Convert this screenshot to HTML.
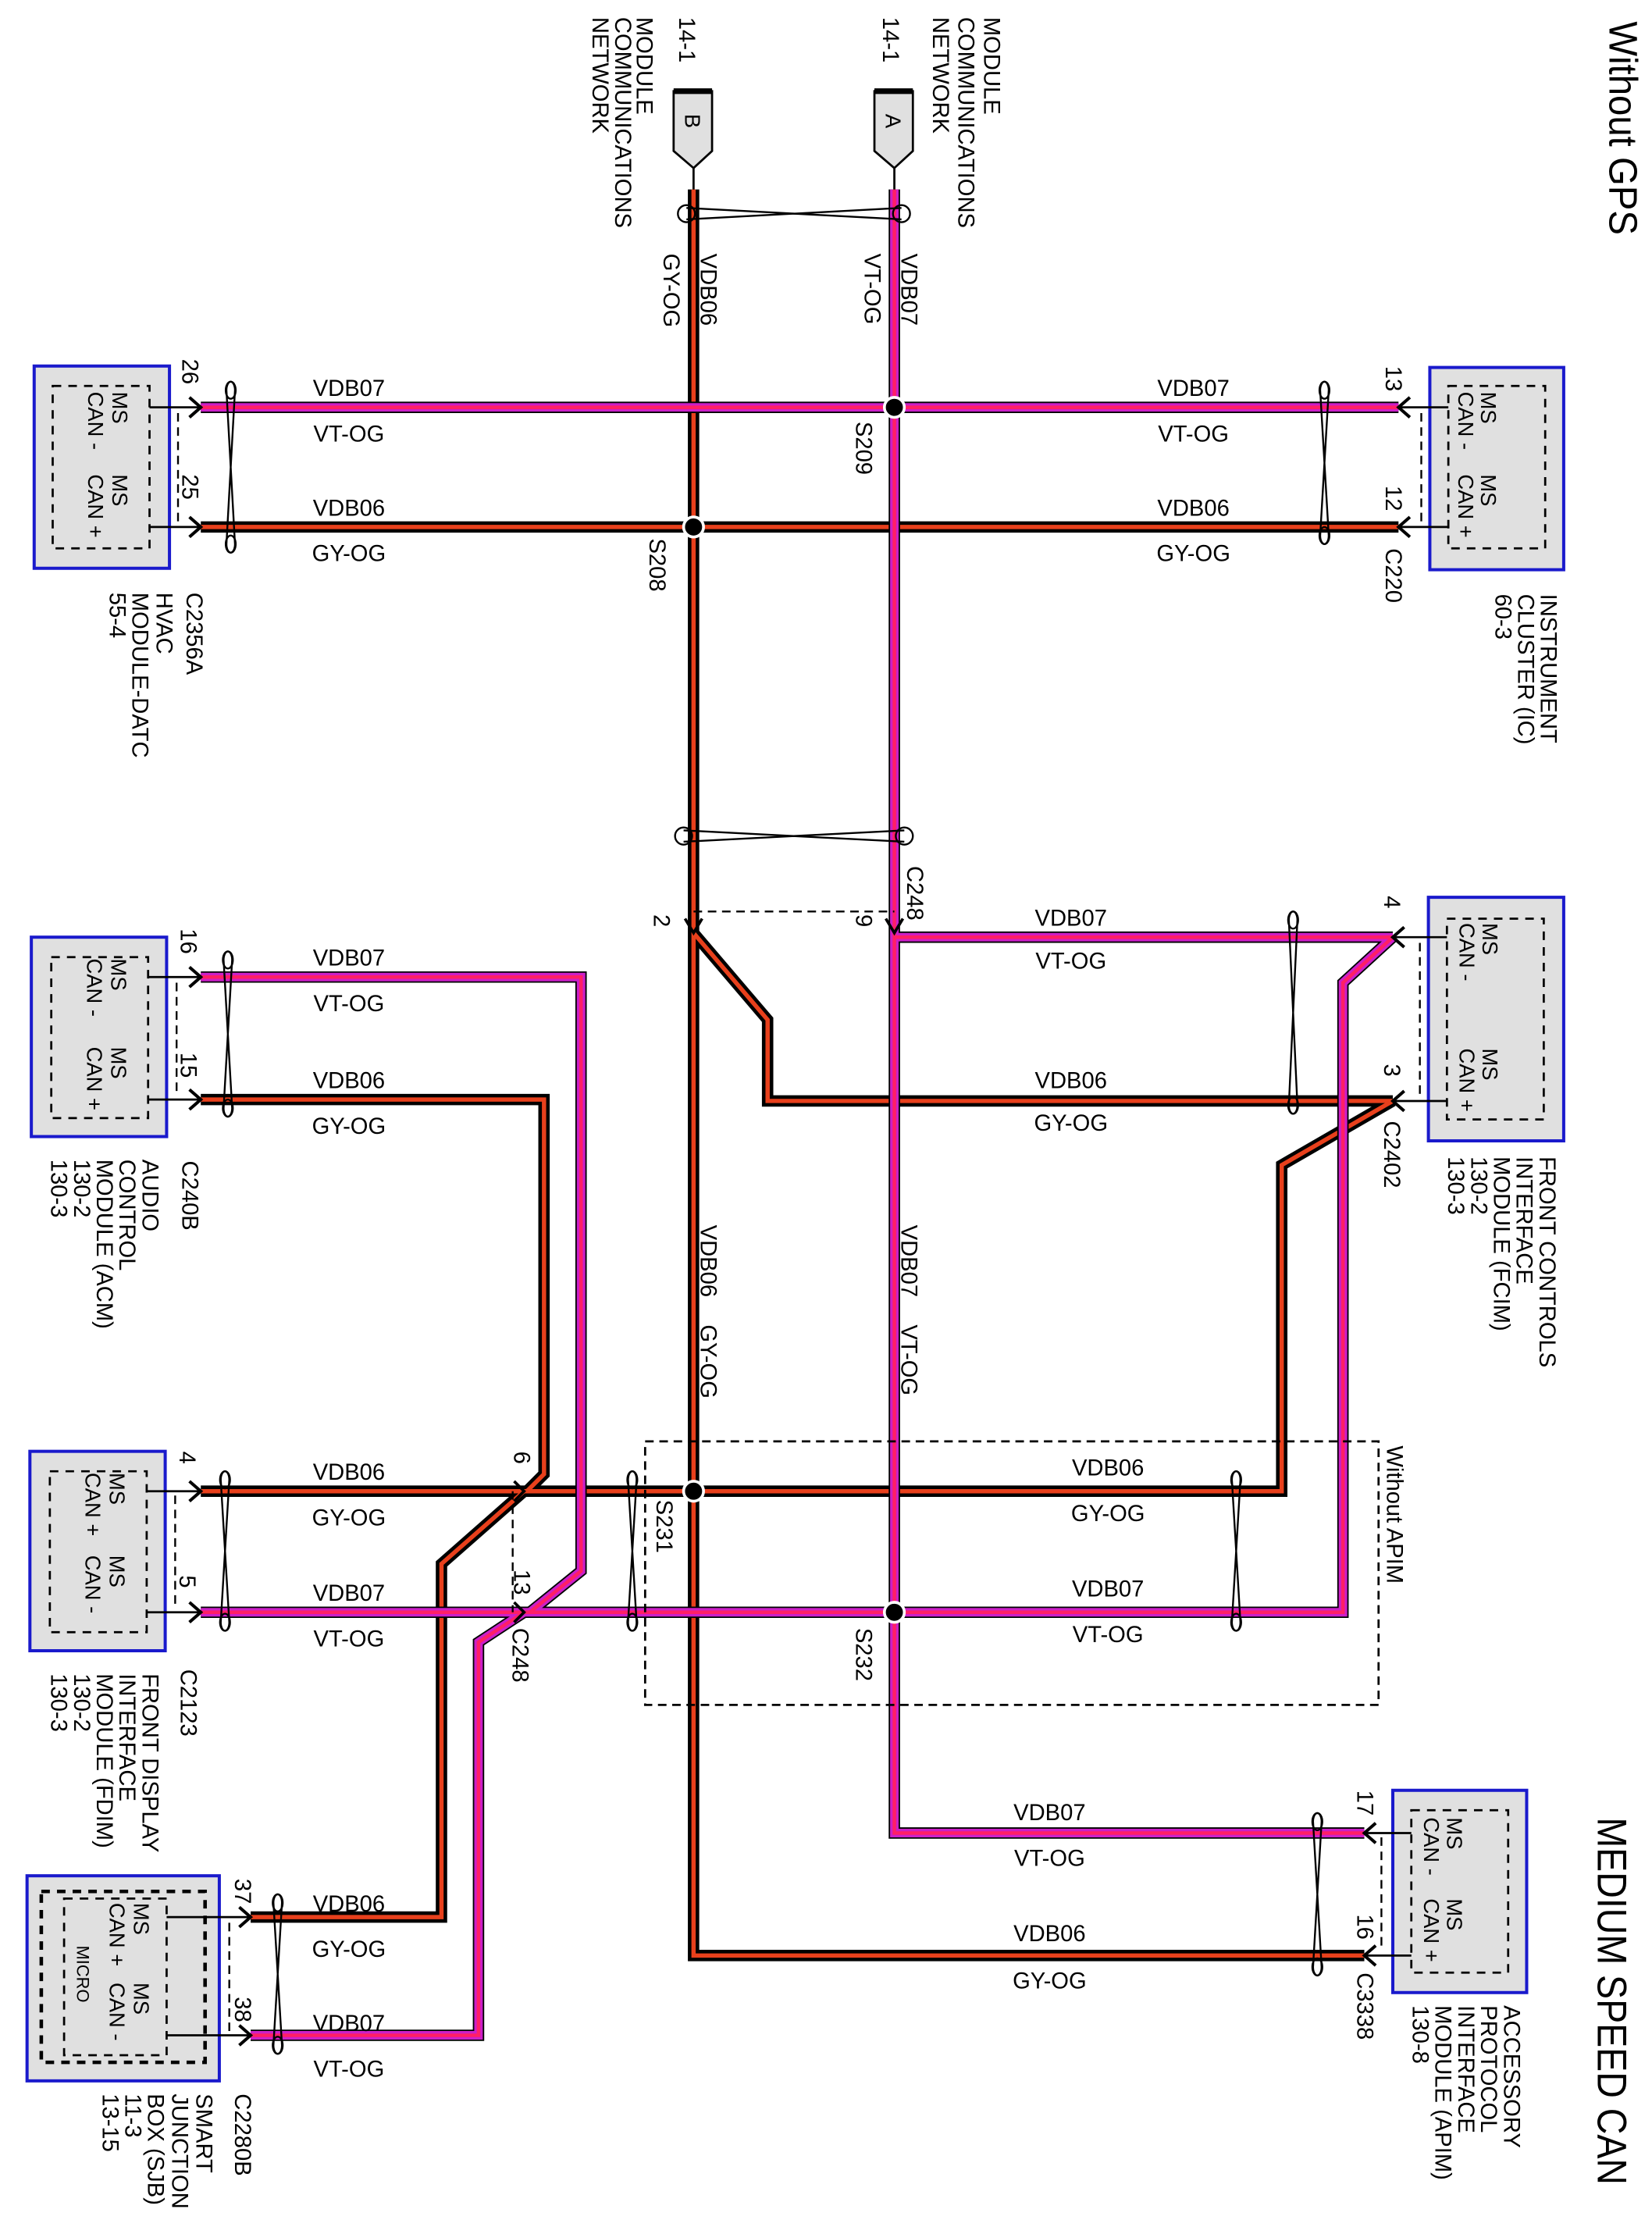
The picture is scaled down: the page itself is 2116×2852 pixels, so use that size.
<!DOCTYPE html>
<html><head><meta charset="utf-8"><style>
html,body{margin:0;padding:0;background:#fff;}
svg{display:block;}
text{font-family:"Liberation Sans",Arial,sans-serif;fill:#000;}
</style></head><body>
<svg xmlns="http://www.w3.org/2000/svg" xmlns:xlink="http://www.w3.org/1999/xlink" width="2116" height="2852" viewBox="0 0 1160 1563.6" preserveAspectRatio="none">
<defs>
<path id="p1" d="M628,133 L628,1287 L958,1287"/>
<path id="p2" d="M141,286 L982,286"/>
<path id="p3" d="M628,658 L978,658"/>
<path id="p4" d="M141,1132 L943,1132 L943,690 L978,658"/>
<path id="p5" d="M141,686 L408,686 L408,1103 L372,1132"/>
<path id="p6" d="M368,1132 L336,1153 L336,1429 L176,1429"/>
<path id="r1" d="M487,133 L487,1373 L958,1373"/>
<path id="r2" d="M141,370 L982,370"/>
<path id="r3" d="M487,655 L539,716 L539,773 L978,773"/>
<path id="r4" d="M978,773 L900,818 L900,1047 L141,1047"/>
<path id="r5" d="M141,772 L382,772 L382,1035 L370,1047"/>
<path id="r6" d="M368,1047 L310,1098 L310,1346 L176,1346"/>
</defs>

<!-- red wires -->
<g fill="none" stroke-linejoin="miter">
<g stroke="#000" stroke-width="8">
<use xlink:href="#r1"/><use xlink:href="#r2"/><use xlink:href="#r3"/><use xlink:href="#r4"/><use xlink:href="#r5"/><use xlink:href="#r6"/>
</g>
<g stroke="#e8401c" stroke-width="3">
<use xlink:href="#r1"/><use xlink:href="#r2"/><use xlink:href="#r3"/><use xlink:href="#r4"/><use xlink:href="#r5"/><use xlink:href="#r6"/>
</g>
<!-- pink wires -->
<g stroke="#000" stroke-width="8">
<use xlink:href="#p1"/><use xlink:href="#p2"/><use xlink:href="#p3"/><use xlink:href="#p4"/><use xlink:href="#p5"/><use xlink:href="#p6"/>
</g>
<g stroke="#cc1fc8" stroke-width="6">
<use xlink:href="#p1"/><use xlink:href="#p2"/><use xlink:href="#p3"/><use xlink:href="#p4"/><use xlink:href="#p5"/><use xlink:href="#p6"/>
</g>
<g stroke="#ff1f66" stroke-width="2.5">
<use xlink:href="#p1"/><use xlink:href="#p2"/><use xlink:href="#p3"/><use xlink:href="#p4"/><use xlink:href="#p5"/><use xlink:href="#p6"/>
</g>
</g>

<!-- top connectors A/B -->
<g stroke="#000" stroke-width="1.5" fill="#e0e0e0">
<path d="M614,64 L641,64 L641,106 L628,118 L614,106 Z"/>
<path d="M473,64 L500,64 L500,106 L487,118 L473,106 Z"/>
</g>
<g stroke="#000" stroke-width="4"><line x1="614" y1="64" x2="641" y2="64"/><line x1="473" y1="64" x2="500" y2="64"/></g>
<g stroke="#000" stroke-width="1.5"><line x1="628" y1="118" x2="628" y2="133"/><line x1="487" y1="118" x2="487" y2="133"/></g>
<text transform="translate(622,80) rotate(90)" font-size="15">A</text>
<text transform="translate(481,80) rotate(90)" font-size="15">B</text>

<!-- splices -->
<g fill="#000" stroke="#fff" stroke-width="2">
<circle cx="628" cy="286" r="7"/><circle cx="487" cy="370" r="7"/>
<circle cx="487" cy="1047" r="7"/><circle cx="628" cy="1132" r="7"/>
</g>

<!-- twists -->
<g fill="none" stroke="#000" stroke-width="1.3">
<!-- horizontal twists -->
<ellipse cx="482" cy="150" rx="6" ry="6"/><ellipse cx="633" cy="150" rx="6" ry="6"/>
<line x1="482" y1="146" x2="633" y2="154"/><line x1="482" y1="154" x2="633" y2="146"/>
<ellipse cx="480" cy="587" rx="6" ry="6"/><ellipse cx="635" cy="587" rx="6" ry="6"/>
<line x1="480" y1="583" x2="635" y2="591"/><line x1="480" y1="591" x2="635" y2="583"/>
<!-- vertical twists -->
<g id="tw">
</g>
<path d="M162,268 m-3,6 a3,6 0 1 1 6,0 M162,388 m-3,-6 a3,6 0 1 0 6,0 M159,274 L165,382 M165,274 L159,382"/>
<path d="M930,268 m-3,6 a3,6 0 1 1 6,0 M930,382 m-3,-6 a3,6 0 1 0 6,0 M927,274 L933,376 M933,274 L927,376"/>
<path d="M160,668 m-3,6 a3,6 0 1 1 6,0 M160,784 m-3,-6 a3,6 0 1 0 6,0 M157,674 L163,778 M163,674 L157,778"/>
<path d="M908,640 m-3,6 a3,6 0 1 1 6,0 M908,782 m-3,-6 a3,6 0 1 0 6,0 M905,646 L911,776 M911,646 L905,776"/>
<path d="M158,1033 m-3,6 a3,6 0 1 1 6,0 M158,1145 m-3,-6 a3,6 0 1 0 6,0 M155,1039 L161,1139 M161,1039 L155,1139"/>
<path d="M444,1033 m-3,6 a3,6 0 1 1 6,0 M444,1145 m-3,-6 a3,6 0 1 0 6,0 M441,1039 L447,1139 M447,1039 L441,1139"/>
<path d="M868,1033 m-3,6 a3,6 0 1 1 6,0 M868,1145 m-3,-6 a3,6 0 1 0 6,0 M865,1039 L871,1139 M871,1039 L865,1139"/>
<path d="M925,1273 m-3,6 a3,6 0 1 1 6,0 M925,1387 m-3,-6 a3,6 0 1 0 6,0 M922,1279 L928,1381 M928,1279 L922,1381"/>
<path d="M195,1330 m-3,6 a3,6 0 1 1 6,0 M195,1442 m-3,-6 a3,6 0 1 0 6,0 M192,1336 L198,1436 M198,1336 L192,1436"/>
</g>
<!-- twist end loops as closed ellipses -->
<g fill="none" stroke="#000" stroke-width="1.3">
<ellipse cx="162" cy="274" rx="3.5" ry="6"/><ellipse cx="162" cy="382" rx="3.5" ry="6"/>
<ellipse cx="930" cy="274" rx="3.5" ry="6"/><ellipse cx="930" cy="376" rx="3.5" ry="6"/>
<ellipse cx="160" cy="674" rx="3.5" ry="6"/><ellipse cx="160" cy="778" rx="3.5" ry="6"/>
<ellipse cx="908" cy="646" rx="3.5" ry="6"/><ellipse cx="908" cy="776" rx="3.5" ry="6"/>
<ellipse cx="158" cy="1039" rx="3.5" ry="6"/><ellipse cx="158" cy="1139" rx="3.5" ry="6"/>
<ellipse cx="444" cy="1039" rx="3.5" ry="6"/><ellipse cx="444" cy="1139" rx="3.5" ry="6"/>
<ellipse cx="868" cy="1039" rx="3.5" ry="6"/><ellipse cx="868" cy="1139" rx="3.5" ry="6"/>
<ellipse cx="925" cy="1279" rx="3.5" ry="6"/><ellipse cx="925" cy="1381" rx="3.5" ry="6"/>
<ellipse cx="195" cy="1336" rx="3.5" ry="6"/><ellipse cx="195" cy="1436" rx="3.5" ry="6"/>
</g>

<!-- dashed connector lines & region -->
<g fill="none" stroke="#000" stroke-width="1.3" stroke-dasharray="6,4">
<line x1="487" y1="640" x2="628" y2="640"/>
<line x1="360" y1="1047" x2="360" y2="1132"/>
<rect x="453" y="1012" width="515" height="185" stroke-width="1.5"/>
<line x1="125" y1="290" x2="125" y2="368"/>
<line x1="998" y1="290" x2="998" y2="368"/>
<line x1="124" y1="690" x2="124" y2="768"/>
<line x1="997" y1="662" x2="997" y2="770"/>
<line x1="123" y1="1050" x2="123" y2="1128"/>
<line x1="970" y1="1290" x2="970" y2="1370"/>
<line x1="161" y1="1350" x2="161" y2="1428"/>
</g>

<!-- C248 middle arrows -->
<g fill="none" stroke="#000" stroke-width="2">
<path d="M481,645 L487,655 L493,645"/><path d="M622,645 L628,655 L634,645"/>
<path d="M361,1040 L368,1047 L361,1054"/><path d="M361,1125 L368,1132 L361,1139"/>
</g>

<!-- Modules -->
<g fill="#e0e0e0" stroke="#1a1acc" stroke-width="2.2">
<rect x="24" y="257" width="95" height="142"/>
<rect x="1004" y="258" width="94" height="142"/>
<rect x="22" y="658" width="95" height="140"/>
<rect x="1003" y="630" width="95" height="171"/>
<rect x="21" y="1019" width="95" height="140"/>
<rect x="978" y="1257" width="94" height="142"/>
<rect x="19" y="1317" width="135" height="144"/>
</g>
<g fill="none" stroke="#000" stroke-width="1.5" stroke-dasharray="6,5">
<rect x="37" y="271" width="68" height="114"/>
<rect x="1017" y="271" width="68" height="114"/>
<rect x="36" y="672" width="68" height="113"/>
<rect x="1016" y="645" width="68" height="141"/>
<rect x="35" y="1033" width="68" height="113"/>
<rect x="991" y="1271" width="68" height="114"/>
<rect x="29" y="1328" width="115" height="120" stroke-width="2.5"/>
<rect x="45" y="1333" width="72" height="110"/>
</g>
<!-- pin lines + chevrons -->
<g fill="none" stroke="#000" stroke-width="1.5">
<line x1="105" y1="286" x2="140" y2="286"/><line x1="105" y1="370" x2="140" y2="370"/>
<line x1="983" y1="286" x2="1017" y2="286"/><line x1="983" y1="370" x2="1017" y2="370"/>
<line x1="104" y1="686" x2="140" y2="686"/><line x1="104" y1="772" x2="140" y2="772"/>
<line x1="979" y1="658" x2="1016" y2="658"/><line x1="979" y1="773" x2="1016" y2="773"/>
<line x1="103" y1="1047" x2="140" y2="1047"/><line x1="103" y1="1132" x2="140" y2="1132"/>
<line x1="959" y1="1287" x2="991" y2="1287"/><line x1="959" y1="1373" x2="991" y2="1373"/>
<line x1="117" y1="1346" x2="175" y2="1346"/><line x1="117" y1="1429" x2="175" y2="1429"/>
</g>
<g fill="none" stroke="#000" stroke-width="2.2">
<path d="M133,279 L141,286 L133,293"/><path d="M133,363 L141,370 L133,377"/>
<path d="M990,279 L982,286 L990,293"/><path d="M990,363 L982,370 L990,377"/>
<path d="M133,679 L141,686 L133,693"/><path d="M133,765 L141,772 L133,779"/>
<path d="M986,651 L978,658 L986,665"/><path d="M986,766 L978,773 L986,780"/>
<path d="M133,1040 L141,1047 L133,1054"/><path d="M133,1125 L141,1132 L133,1139"/>
<path d="M966,1280 L958,1287 L966,1294"/><path d="M966,1366 L958,1373 L966,1380"/>
<path d="M168,1339 L176,1346 L168,1353"/><path d="M168,1422 L176,1429 L168,1436"/>
</g>

<!-- Module inner text (rotated) -->
<g font-size="15">
<text transform="translate(79,275) rotate(90)">MS</text><text transform="translate(62,275) rotate(90)">CAN -</text>
<text transform="translate(79,333) rotate(90)">MS</text><text transform="translate(62,333) rotate(90)">CAN +</text>
<text transform="translate(1040,275) rotate(90)">MS</text><text transform="translate(1024,275) rotate(90)">CAN -</text>
<text transform="translate(1040,333) rotate(90)">MS</text><text transform="translate(1024,333) rotate(90)">CAN +</text>
<text transform="translate(78,673) rotate(90)">MS</text><text transform="translate(61,673) rotate(90)">CAN -</text>
<text transform="translate(78,735) rotate(90)">MS</text><text transform="translate(61,735) rotate(90)">CAN +</text>
<text transform="translate(1041,648) rotate(90)">MS</text><text transform="translate(1025,648) rotate(90)">CAN -</text>
<text transform="translate(1041,736) rotate(90)">MS</text><text transform="translate(1025,736) rotate(90)">CAN +</text>
<text transform="translate(77,1034) rotate(90)">MS</text><text transform="translate(60,1034) rotate(90)">CAN +</text>
<text transform="translate(77,1092) rotate(90)">MS</text><text transform="translate(60,1092) rotate(90)">CAN -</text>
<text transform="translate(1016,1276) rotate(90)">MS</text><text transform="translate(1000,1276) rotate(90)">CAN -</text>
<text transform="translate(1016,1333) rotate(90)">MS</text><text transform="translate(1000,1333) rotate(90)">CAN +</text>
<text transform="translate(94,1336) rotate(90)">MS</text><text transform="translate(77,1336) rotate(90)">CAN +</text>
<text transform="translate(94,1392) rotate(90)">MS</text><text transform="translate(77,1392) rotate(90)">CAN -</text>
<text transform="translate(54,1366) rotate(90)" font-size="12">MICRO</text>
</g>

<!-- Module labels -->
<g font-size="16">
<text transform="translate(110,416) rotate(90)">HVAC</text>
<text transform="translate(93,416) rotate(90)">MODULE-DATC</text>
<text transform="translate(77,416) rotate(90)">55-4</text>
<text transform="translate(1082,417) rotate(90)">INSTRUMENT</text>
<text transform="translate(1066,417) rotate(90)">CLUSTER (IC)</text>
<text transform="translate(1050,417) rotate(90)">60-3</text>
<text transform="translate(100,814) rotate(90)">AUDIO</text>
<text transform="translate(84,814) rotate(90)">CONTROL</text>
<text transform="translate(68,814) rotate(90)">MODULE (ACM)</text>
<text transform="translate(52,814) rotate(90)">130-2</text>
<text transform="translate(36,814) rotate(90)">130-3</text>
<text transform="translate(1081,812) rotate(90)">FRONT CONTROLS</text>
<text transform="translate(1065,812) rotate(90)">INTERFACE</text>
<text transform="translate(1049,812) rotate(90)">MODULE (FCIM)</text>
<text transform="translate(1033,812) rotate(90)">130-2</text>
<text transform="translate(1017,812) rotate(90)">130-3</text>
<text transform="translate(100,1175) rotate(90)">FRONT DISPLAY</text>
<text transform="translate(84,1175) rotate(90)">INTERFACE</text>
<text transform="translate(68,1175) rotate(90)">MODULE (FDIM)</text>
<text transform="translate(52,1175) rotate(90)">130-2</text>
<text transform="translate(36,1175) rotate(90)">130-3</text>
<text transform="translate(1056,1408) rotate(90)">ACCESSORY</text>
<text transform="translate(1040,1408) rotate(90)">PROTOCOL</text>
<text transform="translate(1024,1408) rotate(90)">INTERFACE</text>
<text transform="translate(1008,1408) rotate(90)">MODULE (APIM)</text>
<text transform="translate(992,1408) rotate(90)">130-8</text>
<text transform="translate(138,1470) rotate(90)">SMART</text>
<text transform="translate(121,1470) rotate(90)">JUNCTION</text>
<text transform="translate(104,1470) rotate(90)">BOX (SJB)</text>
<text transform="translate(88,1470) rotate(90)">11-3</text>
<text transform="translate(72,1470) rotate(90)">13-15</text>
<!-- top network labels -->
<text transform="translate(691,12) rotate(90)">MODULE</text>
<text transform="translate(673,12) rotate(90)">COMMUNICATIONS</text>
<text transform="translate(655,12) rotate(90)">NETWORK</text>
<text transform="translate(620,12) rotate(90)">14-1</text>
<text transform="translate(447,12) rotate(90)">MODULE</text>
<text transform="translate(432,12) rotate(90)">COMMUNICATIONS</text>
<text transform="translate(416,12) rotate(90)">NETWORK</text>
<text transform="translate(477,12) rotate(90)">14-1</text>
<!-- connector names & pins -->
<text transform="translate(131,416) rotate(90)">C2356A</text>
<text transform="translate(128,252) rotate(90)">26</text>
<text transform="translate(128,333) rotate(90)">25</text>
<text transform="translate(973,385) rotate(90)">C220</text>
<text transform="translate(973,257) rotate(90)">13</text>
<text transform="translate(973,341) rotate(90)">12</text>
<text transform="translate(128,815) rotate(90)">C240B</text>
<text transform="translate(127,652) rotate(90)">16</text>
<text transform="translate(127,739) rotate(90)">15</text>
<text transform="translate(972,787) rotate(90)">C2402</text>
<text transform="translate(972,629) rotate(90)">4</text>
<text transform="translate(972,747) rotate(90)">3</text>
<text transform="translate(127,1172) rotate(90)">C2123</text>
<text transform="translate(126,1019) rotate(90)">4</text>
<text transform="translate(126,1106) rotate(90)">5</text>
<text transform="translate(953,1385) rotate(90)">C3338</text>
<text transform="translate(953,1257) rotate(90)">17</text>
<text transform="translate(953,1344) rotate(90)">16</text>
<text transform="translate(165,1470) rotate(90)">C2280B</text>
<text transform="translate(165,1319) rotate(90)">37</text>
<text transform="translate(165,1402) rotate(90)">38</text>
<text transform="translate(637,608) rotate(90)">C248</text>
<text transform="translate(459,642) rotate(90)">2</text>
<text transform="translate(601,642) rotate(90)">9</text>
<text transform="translate(360,1143) rotate(90)">C248</text>
<text transform="translate(361,1019) rotate(90)">6</text>
<text transform="translate(361,1102) rotate(90)">13</text>
<text transform="translate(601,296) rotate(90)">S209</text>
<text transform="translate(456,378) rotate(90)">S208</text>
<text transform="translate(461,1053) rotate(90)">S231</text>
<text transform="translate(601,1143) rotate(90)">S232</text>
<text transform="translate(974,1015) rotate(90)">Without APIM</text>
<!-- vertical wire labels -->
<text transform="translate(633,178) rotate(90)">VDB07</text>
<text transform="translate(607,178) rotate(90)">VT-OG</text>
<text transform="translate(492,178) rotate(90)">VDB06</text>
<text transform="translate(466,178) rotate(90)">GY-OG</text>
<text transform="translate(492,860) rotate(90)">VDB06</text>
<text transform="translate(492,930) rotate(90)">GY-OG</text>
<text transform="translate(633,860) rotate(90)">VDB07</text>
<text transform="translate(633,930) rotate(90)">VT-OG</text>
</g>

<!-- horizontal wire labels -->
<g font-size="16" text-anchor="middle">
<text x="245" y="278">VDB07</text><text x="245" y="310">VT-OG</text>
<text x="245" y="362">VDB06</text><text x="245" y="394">GY-OG</text>
<text x="838" y="278">VDB07</text><text x="838" y="310">VT-OG</text>
<text x="838" y="362">VDB06</text><text x="838" y="394">GY-OG</text>
<text x="245" y="678">VDB07</text><text x="245" y="710">VT-OG</text>
<text x="245" y="764">VDB06</text><text x="245" y="796">GY-OG</text>
<text x="752" y="650">VDB07</text><text x="752" y="680">VT-OG</text>
<text x="752" y="764">VDB06</text><text x="752" y="794">GY-OG</text>
<text x="245" y="1039">VDB06</text><text x="245" y="1071">GY-OG</text>
<text x="245" y="1124">VDB07</text><text x="245" y="1156">VT-OG</text>
<text x="778" y="1036">VDB06</text><text x="778" y="1068">GY-OG</text>
<text x="778" y="1121">VDB07</text><text x="778" y="1153">VT-OG</text>
<text x="737" y="1278">VDB07</text><text x="737" y="1310">VT-OG</text>
<text x="737" y="1363">VDB06</text><text x="737" y="1396">GY-OG</text>
<text x="245" y="1342">VDB06</text><text x="245" y="1374">GY-OG</text>
<text x="245" y="1426">VDB07</text><text x="245" y="1458">VT-OG</text>
</g>

<!-- titles -->
<text transform="translate(1130,15) rotate(90)" font-size="28" textLength="150" lengthAdjust="spacingAndGlyphs">Without GPS</text>
<text transform="translate(1122,1276) rotate(90)" font-size="29" textLength="258" lengthAdjust="spacingAndGlyphs">MEDIUM SPEED CAN</text>
</svg>
</body></html>
